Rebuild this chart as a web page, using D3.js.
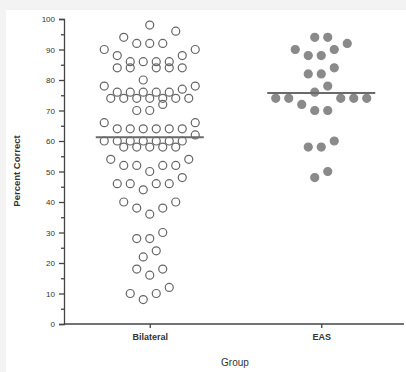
<!DOCTYPE html>
<html>
<head>
<meta charset="utf-8">
<script src="https://cdn.jsdelivr.net/npm/d3@7"></script>
<style>
  body { margin: 0; background: #f3f3f3; }
  svg { display: block; font-family: "Liberation Sans", Arial, sans-serif; }
</style>
</head>
<body>
<script>
// percent correct per listener
const groups = ["Bilateral", "EAS"];
const bilateral = [98, 96, 94, 92, 92, 92, 90, 90, 88, 88, 86, 86, 86, 86, 84, 84, 84, 84, 84,
  80, 78, 78, 77, 76, 76, 76, 76, 76, 74, 74, 74, 74, 74, 74, 74, 72, 70, 70, 66, 66,
  64, 64, 64, 64, 64, 64, 62, 60, 60, 60, 60, 60, 60, 60, 58, 58, 58, 58, 58, 54, 54,
  52, 52, 52, 52, 50, 48, 46, 46, 46, 46, 44, 40, 40, 38, 38, 36, 30, 28, 28, 24, 22,
  18, 18, 16, 12, 10, 10, 8];
const eas = [94, 94, 92, 90, 90, 88, 88, 84, 82, 82, 78, 76, 74, 74, 74, 74, 74, 72, 70, 70,
  60, 58, 58, 50, 48];
const yTicks = [0, 10, 20, 30, 40, 50, 60, 70, 80, 90, 100];

const width = 406, height = 372;
const svg = d3.select("body").append("svg")
    .attr("width", width)
    .attr("height", height);

svg.append("rect")
    .attr("x", 6).attr("y", 10)
    .attr("width", width - 6).attr("height", height - 10)
    .attr("fill", "#fff");

const x = d3.scalePoint().domain(groups).range([64, 407]).padding(0.5);
const y = d3.scaleLinear().domain([0, 100]).range([324, 19]);

const r = 4, step = 13, binSpan = 4, maxRow = 8;

// column scatter: nearby values share a row, lowest value in the middle
function swarm(values) {
  const byVal = d3.groups(values, d => d).sort((a, b) => a[0] - b[0]);
  const rows = [];
  let cur = null;
  byVal.forEach(([v, arr]) => {
    if (cur && v - cur[0] <= binSpan && cur.length + arr.length <= maxRow) cur.push(...arr);
    else { cur = arr.slice(); rows.push(cur); }
  });
  const out = [];
  rows.forEach(row => {
    const n = row.length;
    const slots = d3.range(n).map(i => (i - (n - 1) / 2) * step)
      .sort((a, b) => Math.abs(a) - Math.abs(b) || a - b);
    row.forEach((v, i) => out.push({v: v, dx: slots[i]}));
  });
  return out;
}

const series = [
  {name: "Bilateral", values: bilateral, fill: "none", stroke: "#666"},
  {name: "EAS", values: eas, fill: "#8a8a8a", stroke: "#8a8a8a"}
];

series.forEach(s => {
  const cx = x(s.name);
  svg.append("g").selectAll("circle")
    .data(swarm(s.values))
    .join("circle")
    .attr("cx", d => cx + d.dx)
    .attr("cy", d => y(d.v))
    .attr("r", r)
    .attr("fill", s.fill)
    .attr("stroke", s.stroke)
    .attr("stroke-width", 1.2);

  const m = d3.mean(s.values);
  svg.append("line")
    .attr("x1", cx - 54).attr("x2", cx + 54)
    .attr("y1", y(m)).attr("y2", y(m))
    .attr("stroke", "#6a6a6a")
    .attr("stroke-width", 2);
});

// y axis with minor ticks
const yAxis = svg.append("g")
    .attr("transform", "translate(64,0)")
    .call(d3.axisLeft(y).tickValues(yTicks).tickSize(5).tickPadding(4));
svg.append("g")
    .attr("transform", "translate(64,0)")
    .call(d3.axisLeft(y).tickValues(d3.range(5, 100, 10)).tickSize(3).tickFormat(""))
    .call(g => g.select(".domain").remove());

// x axis
const xAxis = svg.append("g")
    .attr("transform", "translate(0,324)")
    .call(d3.axisBottom(x).tickSize(4).tickPadding(6).tickSizeOuter(0));
xAxis.select(".domain").attr("d", "M64,0H404");

svg.selectAll(".domain, .tick line").attr("stroke", "#444").attr("stroke-width", 1.3);
yAxis.selectAll("text").attr("font-size", 8).attr("fill", "#333");
xAxis.selectAll("text").attr("font-size", 9).attr("font-weight", "bold").attr("fill", "#333");

svg.append("text")
    .attr("transform", "translate(20,171) rotate(-90)")
    .attr("text-anchor", "middle")
    .attr("font-size", 9.5)
    .attr("font-weight", "bold")
    .attr("fill", "#333")
    .text("Percent Correct");

svg.append("text")
    .attr("x", 235).attr("y", 366)
    .attr("text-anchor", "middle")
    .attr("font-size", 10)
    .attr("fill", "#333")
    .text("Group");
</script>
</body>
</html>
